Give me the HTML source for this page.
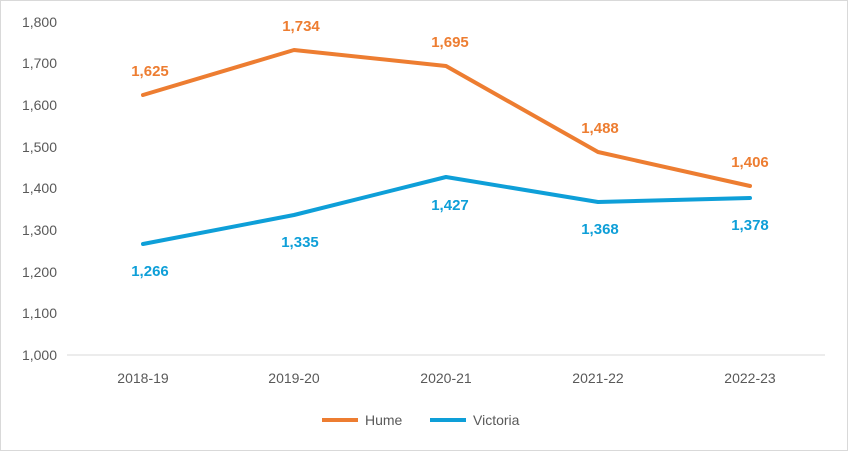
<!DOCTYPE html>
<html><head><meta charset="utf-8"><style>
body{margin:0;background:#fff;}
svg{display:block;font-family:"Liberation Sans",sans-serif;}
</style></head><body>
<svg width="848" height="451" viewBox="0 0 848 451">
<rect x="0.5" y="0.5" width="847" height="450" fill="#fff" stroke="#d9d9d9"/>
<g font-size="14" fill="#595959" text-anchor="end">
<text x="57" y="360">1,000</text>
<text x="57" y="318">1,100</text>
<text x="57" y="277">1,200</text>
<text x="57" y="235">1,300</text>
<text x="57" y="193">1,400</text>
<text x="57" y="152">1,500</text>
<text x="57" y="110">1,600</text>
<text x="57" y="68">1,700</text>
<text x="57" y="27">1,800</text>
</g>
<line x1="67" y1="355" x2="825" y2="355" stroke="#d9d9d9" stroke-width="1"/>
<g font-size="14" fill="#595959" text-anchor="middle">
<text x="143" y="383">2018-19</text>
<text x="294" y="383">2019-20</text>
<text x="446" y="383">2020-21</text>
<text x="598" y="383">2021-22</text>
<text x="750" y="383">2022-23</text>
</g>
<polyline fill="none" stroke="#ed7d31" stroke-width="4" stroke-linejoin="round" stroke-linecap="round" points="143,95 294,50 446,66 598,152 750,186"/>
<polyline fill="none" stroke="#0e9fd8" stroke-width="4" stroke-linejoin="round" stroke-linecap="round" points="143,244 294,215 446,177 598,202 750,198"/>
<g font-size="15" font-weight="bold" fill="#ed7d31" text-anchor="middle">
<text x="150" y="76">1,625</text>
<text x="301" y="31">1,734</text>
<text x="450" y="47">1,695</text>
<text x="600" y="133">1,488</text>
<text x="750" y="167">1,406</text>
</g>
<g font-size="15" font-weight="bold" fill="#0e9fd8" text-anchor="middle">
<text x="150" y="276">1,266</text>
<text x="300" y="247">1,335</text>
<text x="450" y="210">1,427</text>
<text x="600" y="234">1,368</text>
<text x="750" y="230">1,378</text>
</g>
<line x1="322" y1="420" x2="358" y2="420" stroke="#ed7d31" stroke-width="4"/>
<text x="365" y="425" font-size="14" fill="#595959">Hume</text>
<line x1="430" y1="420" x2="466" y2="420" stroke="#0e9fd8" stroke-width="4"/>
<text x="473" y="425" font-size="14" fill="#595959">Victoria</text>
</svg>
</body></html>
